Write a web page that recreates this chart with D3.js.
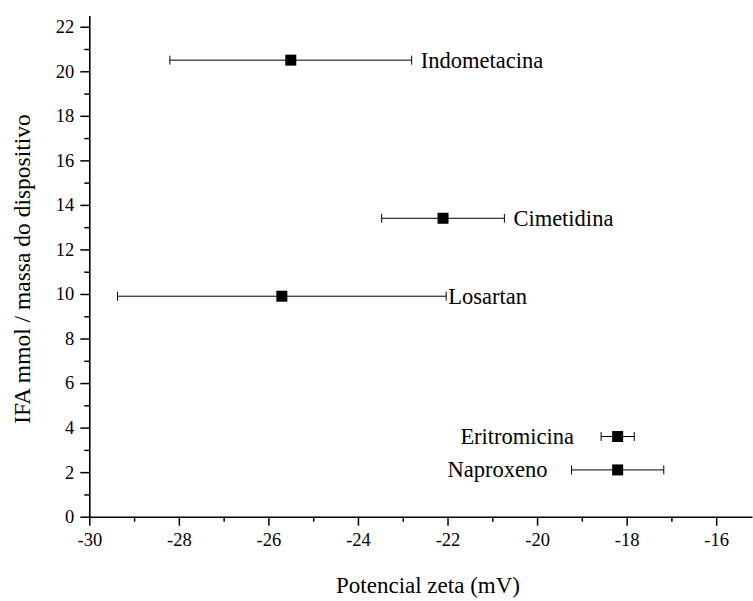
<!DOCTYPE html>
<html>
<head>
<meta charset="utf-8">
<script src="https://cdn.jsdelivr.net/npm/d3@7"></script>
<style>
  html, body { margin: 0; padding: 0; background: #fff; }
  svg { display: block; }
</style>
</head>
<body>
<svg id="chart" width="753" height="601"></svg>
<script>
// Drug names, zeta potential (mV) with its deviation, and IFA amount per device mass
const drugs = ["Indometacina", "Cimetidina", "Losartan", "Eritromicina", "Naproxeno"];
const zeta = [-25.5, -22.1, -25.7, -18.2, -18.2];
const zetaErr = [2.7, 1.37, 3.67, 0.37, 1.03];
const ifa = [20.5, 13.4, 9.9, 3.6, 2.1];
const labelSide = ["right", "right", "right", "left", "left"];

const xTicks = [-30, -28, -26, -24, -22, -20, -18, -16];
const yTicks = [0, 2, 4, 6, 8, 10, 12, 14, 16, 18, 20, 22];

const FONT = "Liberation Serif, DejaVu Serif, serif";

const svg = d3.select("#chart");
const plotLeft = 89.3, plotRight = 752, plotTop = 15.6, plotBottom = 516.7;

const x = d3.scaleLinear().domain([-30, -15.2]).range([plotLeft, plotRight]);
const y = d3.scaleLinear().domain([0, 22.5]).range([plotBottom, plotTop]);

// Minor ticks
const xMinor = d3.range(-29, -15.2, 2);
const yMinor = d3.range(1, 22.5, 2);

const gx = svg.append("g").attr("transform", `translate(0,${plotBottom})`);
gx.call(d3.axisBottom(x).tickValues(xMinor).tickSize(5).tickFormat(""));
gx.call(g => g.select(".domain").remove());
const gx2 = svg.append("g").attr("transform", `translate(0,${plotBottom})`)
  .call(d3.axisBottom(x).tickValues(xTicks).tickSize(9).tickSizeOuter(0).tickPadding(7).tickFormat(d => String(d)));

const gy = svg.append("g").attr("transform", `translate(${plotLeft},0)`);
gy.call(d3.axisLeft(y).tickValues(yMinor).tickSize(5).tickFormat(""));
gy.call(g => g.select(".domain").remove());
const gy2 = svg.append("g").attr("transform", `translate(${plotLeft},0)`)
  .call(d3.axisLeft(y).tickValues(yTicks).tickSize(9).tickSizeOuter(0).tickPadding(6).tickFormat(d => String(d)));

[gx, gx2, gy, gy2].forEach(g => g.attr("font-family", FONT).attr("font-size", 18.5));
svg.selectAll(".tick line").attr("stroke", "#000").attr("stroke-width", 1.5);
svg.selectAll(".domain").attr("stroke", "#000").attr("stroke-width", 1.6);
svg.selectAll(".tick text").attr("fill", "#000");

// Axis titles
svg.append("text")
  .attr("x", 428).attr("y", 593)
  .attr("text-anchor", "middle")
  .attr("font-family", FONT).attr("font-size", 23)
  .text("Potencial zeta (mV)");

svg.append("text")
  .attr("transform", "translate(30,269) rotate(-90)")
  .attr("text-anchor", "middle")
  .attr("font-family", FONT).attr("font-size", 23.5)
  .text("IFA mmol / massa do dispositivo");

// Error bars and points
const rows = drugs.map((d, i) => ({ name: d, x: zeta[i], e: zetaErr[i], y: ifa[i], side: labelSide[i] }));
const pts = svg.append("g").selectAll("g").data(rows).join("g");

pts.append("line")
  .attr("x1", d => x(d.x - d.e)).attr("x2", d => x(d.x + d.e))
  .attr("y1", d => y(d.y)).attr("y2", d => y(d.y))
  .attr("stroke", "#000").attr("stroke-width", 1);
pts.append("line")
  .attr("x1", d => x(d.x - d.e)).attr("x2", d => x(d.x - d.e))
  .attr("y1", d => y(d.y) - 4.5).attr("y2", d => y(d.y) + 4.5)
  .attr("stroke", "#000").attr("stroke-width", 1);
pts.append("line")
  .attr("x1", d => x(d.x + d.e)).attr("x2", d => x(d.x + d.e))
  .attr("y1", d => y(d.y) - 4.5).attr("y2", d => y(d.y) + 4.5)
  .attr("stroke", "#000").attr("stroke-width", 1);
pts.append("rect")
  .attr("x", d => x(d.x) - 5.5).attr("y", d => y(d.y) - 5.5)
  .attr("width", 11).attr("height", 11)
  .attr("fill", "#000");

// Drug names beside their error bars
const gapRight = { "Indometacina": 9, "Cimetidina": 9, "Losartan": 2 };
const gapLeft = { "Eritromicina": 27, "Naproxeno": 24 };
pts.append("text")
  .attr("x", d => d.side === "right" ? x(d.x + d.e) + gapRight[d.name] : x(d.x - d.e) - gapLeft[d.name])
  .attr("y", d => y(d.y) + 7.5)
  .attr("text-anchor", d => d.side === "right" ? "start" : "end")
  .attr("font-family", FONT).attr("font-size", 22.5)
  .text(d => d.name);
</script>
</body>
</html>
